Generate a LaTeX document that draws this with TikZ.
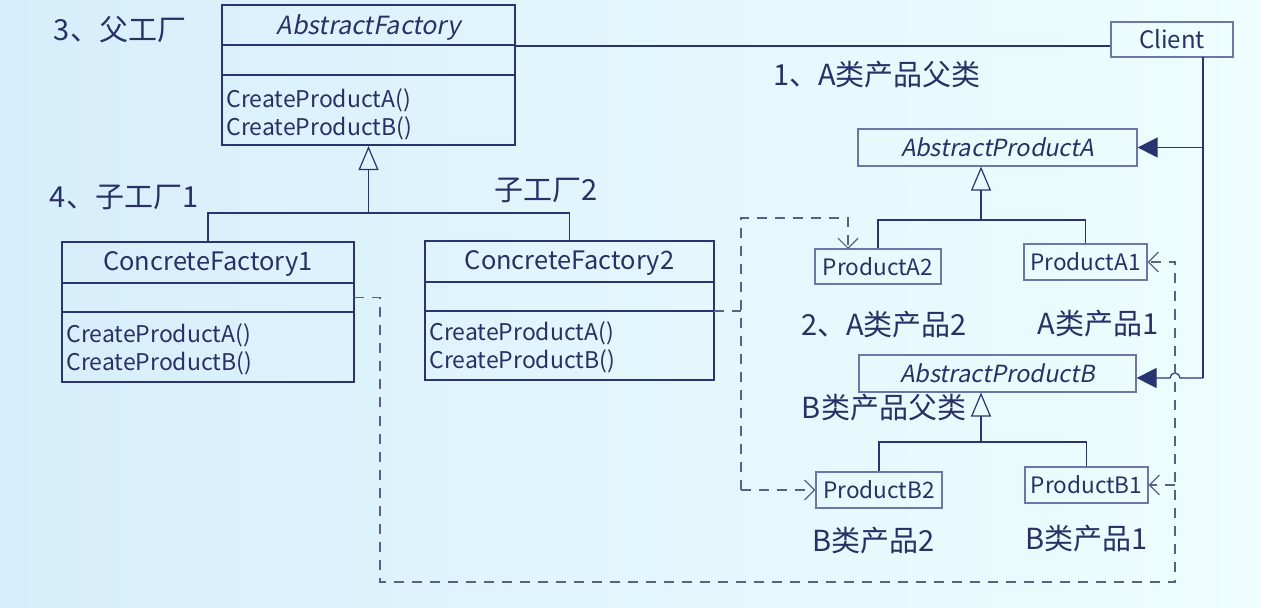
\documentclass[tikz,border=0pt]{standalone}
\usepackage{fontspec}
\setmainfont{Noto Sans CJK SC}[ItalicFont=Noto Sans CJK SC,ItalicFeatures={FakeSlant=0.2}]
\usetikzlibrary{arrows.meta}
\definecolor{ink}{RGB}{40,48,100}
\definecolor{edge}{RGB}{42,52,112}
\definecolor{thinedge}{RGB}{110,118,168}
\definecolor{dashcol}{RGB}{90,96,135}
\definecolor{bgleft}{RGB}{214,238,251}
\definecolor{bgright}{RGB}{238,254,254}
\tikzset{
  classbox/.style={draw=edge,line width=1.1pt,inner sep=0pt},
  prodbox/.style={draw=thinedge,line width=0.6pt,inner sep=0pt,text=ink},
  sepline/.style={draw=edge,line width=0.8pt},
  link/.style={draw=edge,line width=0.6pt},
  inh/.style={link,-{Triangle[open,length=12pt,width=10pt]}},
  assoc/.style={link,-{Triangle[length=10pt,width=10pt]}},
  dep/.style={draw=dashcol,line width=0.6pt,dash pattern=on 5pt off 4pt},
  deptip/.style={dep,-{Straight Barb[length=5pt,width=10pt]}},
  lab/.style={text=ink,font=\fontsize{14.5pt}{17pt}\selectfont},
  title/.style={text=ink,font=\fontsize{12.7pt}{15pt}\selectfont},
  meth/.style={text=ink,align=left,anchor=west,inner sep=1pt,font=\fontsize{11.5pt}{14pt}\selectfont}
}
\begin{document}
\begin{tikzpicture}[x=0.5pt,y=-0.5pt]
\shade[left color=bgleft,right color=bgright] (0,0) rectangle (1261,608);

% factories
\node[classbox,minimum width=146.5pt,minimum height=70pt] (af) at (368.5,75) {};
\draw[sepline] (222,45) -- (515,45);
\draw[sepline] (222,75) -- (515,75);
\node[title,font=\fontsize{12.5pt}{15pt}\selectfont\itshape] (aft) at (368.5,27) {AbstractFactory};
\node[meth] (afm) at (224,114) {CreateProductA()\\CreateProductB()};

\node[classbox,minimum width=146pt,minimum height=70pt] (cf1) at (208,312) {};
\draw[sepline] (62,283) -- (354,283);
\draw[sepline] (62,312) -- (354,312);
\node[title] (cf1t) at (208,264) {ConcreteFactory1};
\node[meth] (cf1m) at (64,349) {CreateProductA()\\CreateProductB()};

\node[classbox,minimum width=144.5pt,minimum height=69.5pt] (cf2) at (569.5,310.5) {};
\draw[sepline] (425,282) -- (714,282);
\draw[sepline] (425,311) -- (714,311);
\node[title] (cf2t) at (569.5,263) {ConcreteFactory2};
\node[meth] (cf2m) at (427,347) {CreateProductA()\\CreateProductB()};

% client and products
\node[prodbox,minimum width=61pt,minimum height=17.5pt,font=\fontsize{12pt}{14pt}\selectfont] (client) at (1172,39.5) {Client};
\node[prodbox,minimum width=139.5pt,minimum height=18.5pt,font=\fontsize{11.8pt}{14pt}\selectfont\itshape] (apa) at (997.5,147.5) {AbstractProductA};
\node[prodbox,minimum width=138.5pt,minimum height=18.5pt,font=\fontsize{11.8pt}{14pt}\selectfont\itshape] (apb) at (997.5,373.5) {AbstractProductB};
\node[prodbox,minimum width=63pt,minimum height=17.5pt,font=\fontsize{11.3pt}{14pt}\selectfont] (pa2) at (878,266.5) {ProductA2};
\node[prodbox,minimum width=61.5pt,minimum height=18pt,font=\fontsize{11.3pt}{14pt}\selectfont] (pa1) at (1085.5,262) {ProductA1};
\node[prodbox,minimum width=63pt,minimum height=18pt,font=\fontsize{11.3pt}{14pt}\selectfont] (pb2) at (879,490) {ProductB2};
\node[prodbox,minimum width=61.5pt,minimum height=18pt,font=\fontsize{11.3pt}{14pt}\selectfont] (pb1) at (1086.5,485) {ProductB1};

% labels
\node[lab] (l3) at (120,30) {3、父工厂};
\node[lab] (l4) at (124,197) {4、子工厂1};
\node[lab] (l5) at (546,190) {子工厂2};
\node[lab] (l1) at (877,75) {1、A类产品父类};
\node[lab] (l2) at (884,325) {2、A类产品2};
\node[lab] (la1) at (1098,324) {A类产品1};
\node[lab] (lbp) at (884,408) {B类产品父类};
\node[lab] (lb2) at (874,541) {B类产品2};
\node[lab] (lb1) at (1087,539) {B类产品1};

% inheritance
\coordinate (fj) at (368.5,213);
\draw[link] (cf1.north) |- (fj) -| (cf2.north);
\draw[inh] (fj) -- (af.south);
\coordinate (aj) at (981,220);
\draw[link] (pa2.north) |- (aj) -| (pa1.north);
\draw[inh] (aj) -- (aj |- apa.south);
\coordinate (bj) at (981,442);
\draw[link] (pb2.north) |- (bj) -| (pb1.north);
\draw[inh] (bj) -- (bj |- apb.south);

% client associations
\coordinate (afc) at (515,46);
\draw[link] (afc) -- (afc -| client.west);
\coordinate (cl) at (1203,57);
\coordinate (clb) at (1203,378);
\coordinate (hop) at (1180,378);
\draw[link] (cl) -- (clb);
\draw[assoc] (cl |- apa.east) -- (apa.east);
\draw[assoc] (clb) -- (hop) arc[start angle=0,end angle=-180,radius=5] -- (apb.east |- clb);

% creates
\coordinate (c1m) at (354,297.5);
\coordinate (d1) at (380,582);
\coordinate (d2) at (1175,582);
\draw[deptip] (c1m) -| (d1) -- (d2) |- (pa1.east);
\draw[deptip] (d2 |- pb1.east) -- (pb1.east);
\coordinate (c2m) at (714,311);
\coordinate (d3) at (741,218);
\coordinate (d4) at (741,490);
\coordinate (pa2in) at (848,249);
\draw[dep] (c2m) -- (c2m -| d3);
\draw[deptip] (d4) -- (d3) -| (pa2in);
\draw[deptip] (d4) -- (pb2.west);
\end{tikzpicture}
\end{document}
